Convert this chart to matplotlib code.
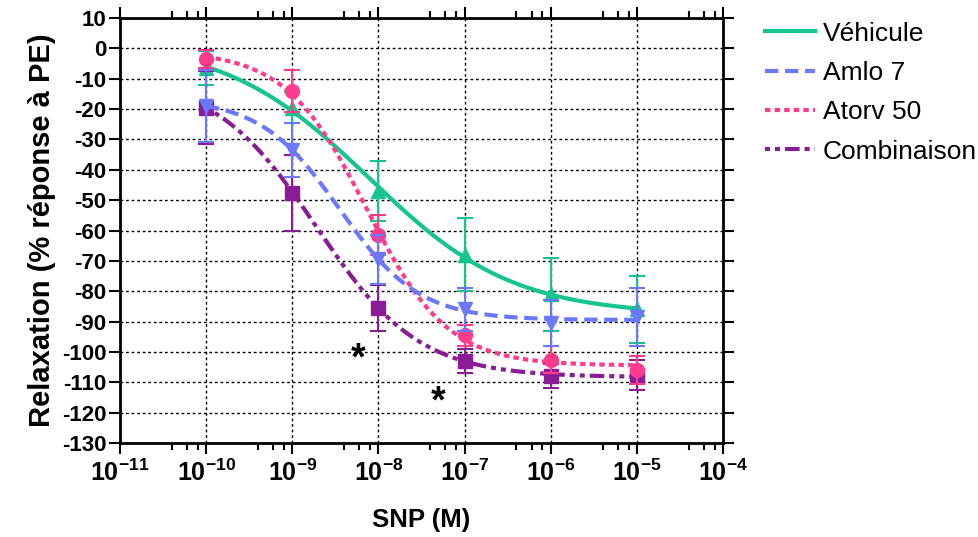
import numpy as np
import matplotlib
matplotlib.use("Agg")
import matplotlib.pyplot as plt
from matplotlib.lines import Line2D

plt.rcParams['font.family'] = ['Liberation Sans', 'DejaVu Sans']
plt.rcParams['axes.unicode_minus'] = False
plt.rcParams['mathtext.fontset'] = 'custom'
plt.rcParams['mathtext.rm'] = 'Liberation Sans'
plt.rcParams['mathtext.bf'] = 'Liberation Sans:bold'

# SNP concentrations (M)
conc = [1e-10, 1e-9, 1e-8, 1e-7, 1e-6, 1e-5]

# mean relaxation (% of PE response) and SEM per group
vehicule = [-6.5, -19.5, -47, -68, -81, -86]
vehicule_sem = [5.5, 5, 10, 12, 12, 11]
amlo = [-19, -33.5, -69.5, -86, -90.5, -88.5]
amlo_sem = [12, 9, 8, 7, 7.5, 9.5]
atorv = [-3.5, -14, -61.5, -94.5, -102.5, -106]
atorv_sem = [3, 7, 6.5, 3.5, 4.5, 4.5]
combi = [-19.5, -47.5, -85.5, -103, -108, -107.5]
combi_sem = [12, 12.5, 7.5, 4, 4, 5]

labels = ['Véhicule', 'Amlo 7', 'Atorv 50', 'Combinaison']

# significance marks (x in M, y in %)
stars_x = [5.8e-9, 4.9e-8]
stars_y = [-102.5, -116.5]


def fit_sigmoid(x, y):
    # 4-parameter logistic fit on log10(x), grid search on EC50/Hill,
    # least squares for top and bottom
    lx = np.log10(np.array(x))
    y = np.array(y, dtype=float)
    cs = np.linspace(-10.5, -6.0, 451)
    hs = np.linspace(0.3, 2.5, 221)
    C, H = np.meshgrid(cs, hs, indexing='ij')
    S = 1.0 / (1.0 + 10 ** ((lx[None, None, :] - C[..., None]) * H[..., None]))
    U = 1.0 - S
    a11 = (S * S).sum(-1)
    a12 = (S * U).sum(-1)
    a22 = (U * U).sum(-1)
    b1 = (S * y).sum(-1)
    b2 = (U * y).sum(-1)
    det = a11 * a22 - a12 ** 2
    det[det == 0] = 1e-12
    top = (a22 * b1 - a12 * b2) / det
    bot = (a11 * b2 - a12 * b1) / det
    pred = top[..., None] * S + bot[..., None] * U
    err = ((pred - y) ** 2).sum(-1)
    i, j = np.unravel_index(np.argmin(err), err.shape)
    c, h, t, b = cs[i], hs[j], top[i, j], bot[i, j]

    def f(xx):
        return b + (t - b) / (1 + 10 ** ((np.log10(xx) - c) * h))
    return f


fig = plt.figure(figsize=(9.79, 5.37), dpi=100)
ax = fig.add_axes([0.1226, 0.175, 0.6159, 0.7915])

series = [
    (vehicule, vehicule_sem, '#16c48e', '-', '^', 2),
    (combi, combi_sem, '#8a1c95', (0, (1.2, 1.2, 1.2, 1.2, 3.5, 1.2)), 's', 3),
    (atorv, atorv_sem, '#ff3b8d', (0, (1.3, 1.0)), 'o', 4),
    (amlo, amlo_sem, '#6c78fb', (0, (3.2, 1.6)), 'v', 5),
]

xs = np.logspace(-10, -5, 300)
for y, sem, col, ls, mk, z in series:
    f = fit_sigmoid(conc, y)
    ax.plot(xs, f(xs), color=col, ls=ls, lw=3, zorder=z)
    ax.errorbar(conc, y, yerr=sem, fmt=mk, color=col, ms=10, capsize=6,
                elinewidth=1.5, capthick=1.5, zorder=z)

for sx, sy in zip(stars_x, stars_y):
    ax.text(sx, sy, '*', fontsize=27, fontweight='bold', ha='center', va='center')

ax.set_xscale('log')
ax.set_xlim(1e-11, 1e-4)
ax.set_ylim(-130, 10)
ax.set_yticks(np.arange(-130, 11, 10))
ax.set_xticks([10.0 ** k for k in range(-11, -3)])
ax.set_xticks([m * 10.0 ** k for k in range(-11, -4) for m in (4, 6, 8)], minor=True)
ax.set_xticklabels([r'$\mathbf{10^{%d}}$' % k for k in range(-11, -3)])
ax.set_yticklabels([str(v) for v in range(-130, 11, 10)])

ax.grid(True, which='major', color='black', ls=(0, (2, 2)), lw=1)
ax.set_axisbelow(True)

for s in ax.spines.values():
    s.set_linewidth(2)
ax.tick_params(axis='both', which='major', length=8, width=1.5, labelsize=16,
               top=True, right=True, direction='out', pad=2)
ax.tick_params(axis='x', which='minor', length=5, width=1.5, top=True, direction='out')
ax.tick_params(axis='x', which='major', labelsize=18, pad=4)
for t in ax.get_yticklabels():
    t.set_fontweight('bold')

ax.set_xlabel('SNP (M)', fontsize=18.5, fontweight='bold', labelpad=16)
ax.set_ylabel('Relaxation (% réponse à PE)', fontsize=21, fontweight='bold', labelpad=4)

handles = [Line2D([], [], color=col, ls=ls, lw=3) for _, _, col, ls, _, _ in series]
order = [0, 3, 2, 1]
fig.legend([handles[i] for i in order], labels, loc='upper left',
           bbox_to_anchor=(0.757, 1.004), frameon=False, fontsize=19,
           handlelength=1.9, labelspacing=0.58, handletextpad=0.3)

fig.savefig('out.png', dpi=100)
